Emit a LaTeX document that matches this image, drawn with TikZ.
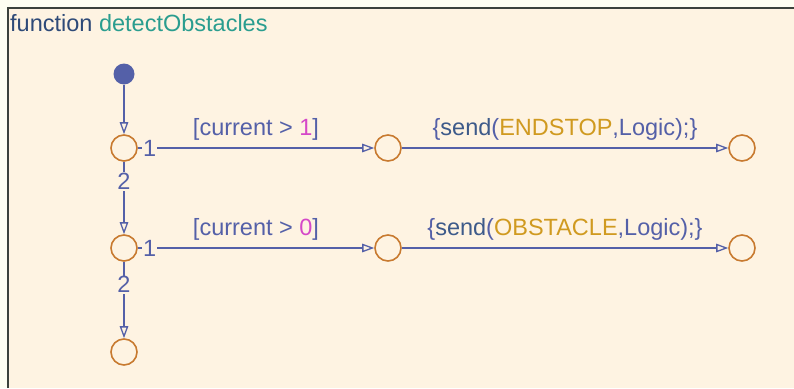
\documentclass[tikz,border=0pt]{standalone}
\usepackage{fontspec}
\setmainfont{Liberation Sans}
\usetikzlibrary{arrows.meta,positioning}
\definecolor{chartbg}{HTML}{FEF3E2}
\definecolor{pagebg}{HTML}{FEFEF2}
\definecolor{framecol}{HTML}{3C423C}
\definecolor{trans}{HTML}{5460A8}
\definecolor{junccol}{HTML}{C87A30}
\definecolor{kwcol}{HTML}{2E4A78}
\definecolor{fncol}{HTML}{2A9D8F}
\definecolor{numcol}{HTML}{D548C8}
\definecolor{evcol}{HTML}{D09A20}
\definecolor{sendcol}{HTML}{3D5A8A}
\tikzset{
  junc/.style={circle, draw=junccol, line width=1.6pt, minimum size=26pt, inner sep=0pt},
  dflt/.style={circle, fill=trans, minimum size=21pt, inner sep=0pt},
  arr/.style={-{Triangle[open, length=12pt, width=8.5pt]}, line width=1.3pt, color=trans},
  lbl/.style={font=\fontsize{23.5}{28}\selectfont, text=trans},
  prio/.style={lbl, fill=chartbg, inner sep=1pt},
}
\newcommand{\num}[1]{\textcolor{numcol}{#1}}

\begin{document}
\begin{tikzpicture}[x=1pt, y=1pt, node distance=100pt and 264pt, on grid]
    \useasboundingbox (0,0) rectangle (794,-388);
    \fill[pagebg] (0,0) rectangle (794,-388);
    \fill[chartbg] (8,-8) rectangle (794,-388);
    \draw[framecol, line width=2.5pt] (8,-388) -- (8,-8) -- (794,-8);
    \node[lbl, anchor=base west, inner sep=0pt] (title) at (10,-31) {\textcolor{kwcol}{function} \textcolor{fncol}{detectObstacles}};
    \node[dflt] (init) at (124,-74) {};
    \node[junc, below=74pt of init] (j1) {};
    \node[junc, below=of j1] (j2) {};
    \node[junc, below=104pt of j2] (jend) {};
    \node[junc, right=of j1] (m1) {};
    \node[junc, right=of j2] (m2) {};
    \node[junc, right=354pt of m1] (r1) {};
    \node[junc, right=354pt of m2] (r2) {};
    \draw[arr] (init) -- (j1);
    \draw[arr] (j1) -- node[prio, pos=0.05] (p11) {1}
        node[lbl, midway, anchor=base, yshift=13pt] (c1) {[current > \num{1}]} (m1);
    \draw[arr] (j1) -- node[prio, pos=0.27] (p12) {2} (j2);
    \draw[arr] (m1) -- node[lbl, midway, anchor=base, yshift=13pt] (a1)
        {\{\textcolor{sendcol}{send}(\textcolor{evcol}{ENDSTOP},Logic);\}} (r1);
    \draw[arr] (j2) -- node[prio, pos=0.05] (p21) {1}
        node[lbl, midway, anchor=base, yshift=13pt] (c2) {[current > \num{0}]} (m2);
    \draw[arr] (j2) -- node[prio, pos=0.3] (p22) {2} (jend);
    \draw[arr] (m2) -- node[lbl, midway, anchor=base, yshift=13pt] (a2)
        {\{\textcolor{sendcol}{send}(\textcolor{evcol}{OBSTACLE},Logic);\}} (r2);
\end{tikzpicture}
\end{document}
